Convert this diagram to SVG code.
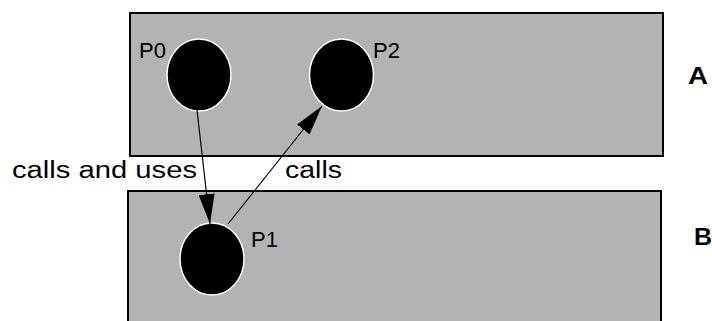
<svg xmlns="http://www.w3.org/2000/svg" width="712" height="321" viewBox="0 0 712 321">
<style>
.box{fill:#b3b3b3;stroke:#000;stroke-width:2}
.node{fill:#000;stroke:#fff;stroke-width:1.5}
.lbl{font-family:"Liberation Sans",Arial,sans-serif;font-size:22px;fill:#000}
.cap{font-family:"Liberation Sans",Arial,sans-serif;font-size:23px;fill:#000}
.big{font-family:"Liberation Sans",Arial,sans-serif;font-size:24px;font-weight:bold;fill:#000}
.edge{stroke:#000;stroke-width:1.2;fill:none}
</style>
<defs>
<marker id="ah" markerUnits="userSpaceOnUse" markerWidth="30" markerHeight="16" refX="30" refY="8" orient="auto">
<path d="M0,0 L30,8 L0,16 z" fill="#000"/>
</marker>
</defs>
<g id="A">
<rect class="box" x="130" y="13" width="533" height="143"/>
<text class="big" x="688" y="84" textLength="20" lengthAdjust="spacingAndGlyphs">A</text>
</g>
<g id="B">
<rect class="box" x="128" y="191" width="533" height="140"/>
<text class="big" x="694" y="245" textLength="18" lengthAdjust="spacingAndGlyphs">B</text>
</g>
<g id="P0">
<ellipse class="node" cx="199" cy="75" rx="32" ry="36"/>
<text class="lbl" x="139" y="58">P0</text>
</g>
<g id="P2">
<ellipse class="node" cx="341.5" cy="75" rx="32" ry="36"/>
<text class="lbl" x="373" y="58">P2</text>
</g>
<g id="P1">
<ellipse class="node" cx="212" cy="259" rx="32" ry="36"/>
<text class="lbl" x="251" y="247">P1</text>
</g>
<g id="connectors">
<line class="edge" x1="197" y1="110" x2="210" y2="224" marker-end="url(#ah)"/>
<line class="edge" x1="228" y1="224" x2="322" y2="106" marker-end="url(#ah)"/>
<text class="cap" x="12" y="178" textLength="185" lengthAdjust="spacingAndGlyphs">calls and uses</text>
<text class="cap" x="285" y="178" textLength="57" lengthAdjust="spacingAndGlyphs">calls</text>
</g>
</svg>
